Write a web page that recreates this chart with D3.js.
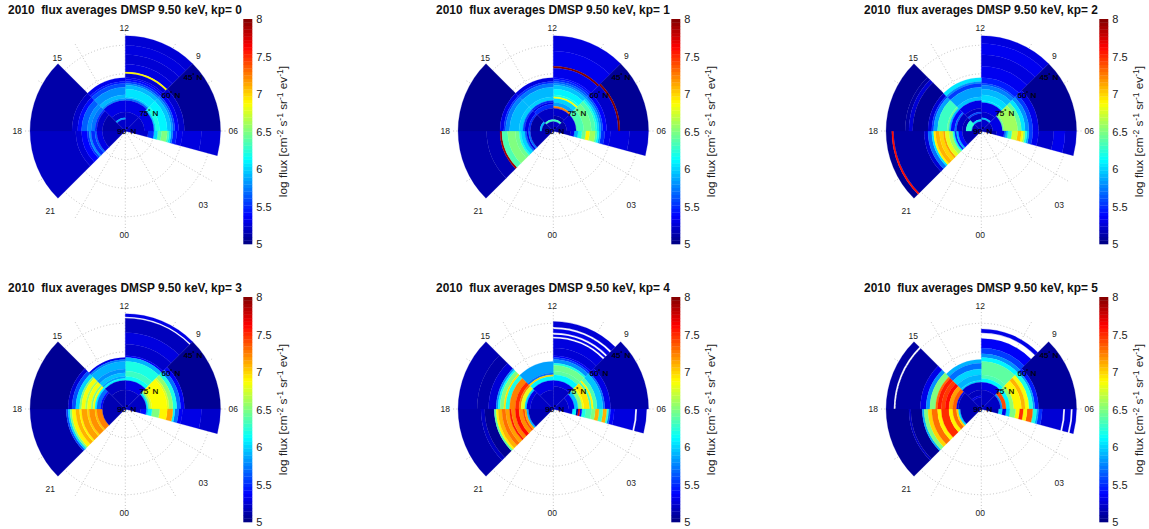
<!DOCTYPE html>
<html>
<head>
<meta charset="utf-8">
<script src="https://cdn.jsdelivr.net/npm/d3@7"></script>
<style>
    body { margin: 0; background: #fff; }
    text { font-family: "Liberation Sans", Arial, sans-serif; white-space: pre; }
</style>
</head>
<body>
<div id="chart"></div>
<script>
// MLT sectors, clockwise from noon
const sectorHours = [[12, 9], [9, 6], [6, 5], [21, 18], [18, 15], [15, 12]];
const kpValues = [0, 1, 2, 3, 4, 5];
const colorTicks = [5, 5.5, 6, 6.5, 7, 7.5, 8];
const latCircles = [75, 60, 45];
const latLabels = [45, 60, 75, 90];
const hourLabels = ["12", "9", "06", "03", "00", "21", "18", "15"];

// each band: [outer latitude, log flux], runs inward to the next band. null = no data
const kp0 = [
    [[40,5.25],[45,5.28],[50,5.25],[55,5.28],[59,6.9],[60,5.25],[62,5.32],[63,5.4],[64,5.55],[65,5.75],[66,5.92],[68,6.05],[72,6.0],[73,5.7],[74,5.3],[80,5.22]],
    [[40,5.07],[59,5.22],[62,5.35],[64,5.6],[65,5.8],[66,5.95],[68,6.1],[72,6.2],[74,6.0],[75,5.3],[80,5.2]],
    [[40,5.25],[50,5.28],[60,5.32],[63,5.45],[65,5.75],[66,6.05],[67,6.3],[68,6.5],[71,6.35],[73,6.0],[75,5.5],[78,5.22]],
    [[40,5.2],[64,5.25],[67,5.38],[70,5.55],[71,5.8],[72,5.5],[74,5.65],[75,5.3],[78,5.18]],
    [[40,5.12],[62,5.22],[65,5.4],[67,5.65],[70,5.8],[72,5.72],[74,5.5],[75,5.22],[78,5.12]],
    [[62,5.32],[64,5.45],[65,5.6],[67,5.8],[71,5.92],[73,5.8],[74,5.3],[80,5.22],[83,5.85],[84,5.22]]
];
const kp1 = [
    [[40,5.28],[48,5.32],[56,8.0],[57,5.32],[62,5.4],[63,5.5],[64,5.65],[65,5.8],[66,5.95],[68,6.1],[71,6.2],[72,6.85],[73,6.0],[75,5.85],[77,7.25],[78,5.22],[82,5.12],[84,6.3],[85,5.2]],
    [[40,5.06],[55,8.0],[56,5.22],[62,5.38],[64,5.6],[65,5.8],[66,6.0],[67,6.2],[68,6.35],[70,6.45],[74,6.35],[78,5.25],[83,5.12]],
    [[40,5.22],[50,5.28],[60,5.32],[63,5.5],[65,5.85],[66,6.1],[67,6.35],[68,6.6],[71,6.9],[73,6.45],[75,6.2],[77,5.9],[79,5.3],[81,5.15]],
    [[40,5.12],[55,5.15],[62,7.9],[63,6.35],[66,6.5],[70,6.45],[72,6.2],[73,6.0],[75,5.7],[76,5.3],[77,5.7],[78,5.15]],
    [[40,5.05],[62,5.3],[64,5.55],[65,5.75],[67,5.92],[72,5.98],[74,5.6],[75,5.3],[77,5.5],[78,5.1],[83,5.9],[84,5.1]],
    [[62,5.28],[64,5.5],[65,5.72],[67,5.92],[72,5.98],[74,5.5],[75,5.3],[76,5.5],[78,5.2],[84,6.3],[85,5.15]]
];
const kp2 = [
    [[40,5.28],[44,5.33],[50,5.28],[56,5.33],[62,5.45],[65,5.6],[66,5.75],[68,5.92],[71,6.02],[74,6.05],[75,5.3],[80,5.22],[83,5.95],[84,5.22]],
    [[40,5.06],[60,5.3],[63,5.55],[65,5.8],[67,6.05],[69,6.4],[71,6.6],[78,6.45],[79,5.3],[84,5.15]],
    [[40,5.22],[46,5.32],[52,5.22],[60,5.32],[63,5.55],[65,5.9],[66,6.2],[67,6.6],[68,6.85],[69,7.05],[71,6.75],[74,6.3],[76,5.95],[77,5.7],[78,5.3],[82,5.15]],
    [[40,5.05],[43,7.6],[44,5.1],[60,5.25],[62,5.7],[64,6.05],[65,6.9],[66,7.1],[68,7.0],[70,7.15],[71,6.8],[73,6.6],[75,6.2],[76,5.5],[77,5.9],[78,5.4],[80,5.15]],
    [[40,5.06],[50,5.1],[52,5.25],[54,5.06],[62,5.25],[64,5.55],[65,5.85],[67,6.3],[72,6.42],[73,5.95],[74,5.4],[76,5.7],[77,5.2],[80,5.15],[82,6.25],[85,5.15]],
    [[62,6.05],[64,5.8],[65,5.55],[67,5.85],[72,5.95],[74,5.3],[78,5.2],[80,5.6],[81,5.2],[84,6.0],[85,5.2]]
];
const kp3 = [
    [[40,5.3],[41.5,null],[42.3,5.18],[50,5.28],[56,5.22],[62,5.35],[63,5.9],[65,6.2],[70,6.3],[73,6.15],[75,5.3],[80,5.2]],
    [[40,5.06],[59,5.35],[61,5.7],[63,6.2],[65,6.55],[67,6.75],[68,6.87],[76,6.78],[77,6.5],[78,6.05],[79,5.2]],
    [[40,5.22],[50,5.3],[60,5.35],[62,5.7],[64,6.1],[65,7.15],[68,6.9],[72,6.5],[76,6.1],[78,5.95],[79,5.4],[82,5.2]],
    [[40,5.12],[59,5.6],[60,6.0],[61,6.5],[62,6.9],[64,7.1],[66,6.9],[67,7.15],[70,7.0],[71,7.2],[74,7.05],[75,7.25],[78,5.15]],
    [[40,5.06],[60,5.25],[62,5.6],[64,6.0],[66,6.5],[67,6.85],[69,6.6],[70,6.85],[72,6.5],[73,6.85],[74,6.1],[75,5.7],[77,5.4],[78,5.15]],
    [[63,5.3],[64,5.75],[65,5.9],[69,5.8],[71,5.95],[73,5.85],[74,6.1],[75,5.2],[80,5.15]]
];
const kp4 = [
    [[44,5.25],[47,null],[48,5.3],[50,null],[51,5.3],[52,null],[53,5.28],[58,5.25],[62,5.35],[63,5.55],[64,5.8],[66,6.2],[67,6.45],[70,6.4],[72,6.1],[75,5.3],[78,5.2]],
    [[40,5.12],[60,5.3],[63,5.7],[64,5.95],[67,6.35],[69,6.9],[70,6.3],[71,6.95],[74,6.85],[75,6.5],[77,5.95],[79,5.3],[82,5.2]],
    [[41,5.22],[46,null],[47,5.28],[58,5.35],[60,5.7],[61,6.25],[62,7.1],[64,6.3],[66,7.1],[68,6.5],[70,6.35],[73,6.2],[75,5.4],[76,7.7],[77,5.1],[78,6.1],[80,5.25]],
    [[40,5.12],[52,5.2],[54,5.06],[59,6.4],[60,6.9],[61,7.1],[63,7.3],[65,7.15],[67,7.55],[68,7.25],[70,7.6],[72,7.2],[74,7.4],[75,7.15],[76,5.9],[77,5.15]],
    [[40,5.15],[50,5.12],[56,5.25],[60,5.8],[61,6.15],[62,6.5],[64,6.95],[65,6.2],[67,7.25],[70,7.5],[72,7.25],[73,6.8],[75,6.0],[76,5.3],[78,5.2]],
    [[65,5.85],[71,5.7],[72,7.0],[73,6.1],[75,5.3],[80,5.2]]
];
const kp5 = [
    [[48,5.3],[50,null],[53,5.35],[58,5.55],[61,5.8],[63,6.1],[65,6.4],[72,6.35],[74,6.1],[76,5.3],[80,5.2]],
    [[40,5.08],[60,5.45],[62,5.85],[63,6.2],[65,6.85],[67,7.1],[69,6.9],[73,6.55],[75,6.1],[77,7.4],[79,5.8],[80,5.2]],
    [[40,5.25],[42,null],[43,5.25],[46,null],[47,5.25],[58,5.5],[60,5.85],[61,6.2],[63,7.35],[66,6.9],[68,7.5],[70,6.9],[72,6.5],[75,6.0],[77,5.3],[79,6.0],[81,5.15]],
    [[40,5.06],[52,5.2],[53,5.06],[59,5.9],[60,6.5],[62,7.0],[64,7.3],[67,6.9],[69,7.5],[73,6.9],[75,7.3],[77,7.0],[78,6.0],[79,5.15]],
    [[40,5.1],[44,null],[45,5.1],[58,5.3],[61,5.8],[63,6.5],[66,7.3],[67,7.55],[69,7.45],[71,7.6],[73,7.15],[75,7.35],[77,5.3],[78,5.15]],
    [[64,5.9],[66,5.7],[69,6.0],[72,5.9],[75,6.0],[76,5.22],[80,5.18],[83,5.3],[84,5.18]]
];
const allKp = [kp0, kp1, kp2, kp3, kp4, kp5];

const width = 1149, height = 529;
const centers = [[125.3, 131], [553.3, 131], [981.3, 131], [125.3, 409], [553.3, 409], [981.3, 409]];

const svg = d3.select("#chart").append("svg")
    .attr("width", width)
    .attr("height", height);

// lat 90 in the middle, 1 degree = 1.905 px
const rScale = d3.scaleLinear().domain([90, 45]).range([0, 85.7]);
const angle = d3.scaleLinear().domain([0, 24]).range([0, 2 * Math.PI]);
const cbar = d3.scaleLinear().domain([5, 8]).range([225, 0]);

// matlab jet
const jet = d3.scaleLinear()
    .domain([5, 5.375, 6.125, 6.875, 7.625, 8])
    .range(["#000080", "#0000ff", "#00ffff", "#ffff00", "#ff0000", "#800000"])
    .clamp(true);

const arc = d3.arc();

function drawPanel(i) {
    let g = svg.append("g")
        .attr("transform", "translate(" + centers[i][0] + "," + centers[i][1] + ")");

    // dotted grid sits under the data
    latCircles.forEach(function(lat) {
        g.append("circle")
            .attr("r", rScale(lat))
            .attr("fill", "none")
            .attr("stroke", "#aaa")
            .attr("stroke-width", 0.7)
            .attr("stroke-dasharray", "1,2.2");
    });
    d3.range(0, 360, 30).forEach(function(deg) {
        let a = deg * Math.PI / 180;
        g.append("line")
            .attr("x2", 102 * Math.sin(a))
            .attr("y2", -102 * Math.cos(a))
            .attr("stroke", "#aaa")
            .attr("stroke-width", 0.7)
            .attr("stroke-dasharray", "1,2.2");
    });

    // flux rings
    allKp[i].forEach(function(bands, s) {
        let h0 = sectorHours[s][0], h1 = sectorHours[s][1];
        let start = angle((12 - h0 + 24) % 24);
        let end = start + angle(h0 - h1);
        bands.forEach(function(b, j) {
            if (b[1] === null) return;
            let inner = j < bands.length - 1 ? bands[j + 1][0] : 90;
            let c = jet(b[1]);
            g.append("path")
                .attr("d", arc({
                    innerRadius: rScale(inner),
                    outerRadius: rScale(b[0]),
                    startAngle: start,
                    endAngle: end
                }))
                .attr("fill", c)
                .attr("stroke", c)
                .attr("stroke-width", 0.25);
        });
    });

    // MLT labels
    const hourPos = [[-1, -103], [73, -75], [108, 0], [78, 74], [-1, 104], [-75, 80], [-108, 0], [-68, -73]];
    hourLabels.forEach(function(t, k) {
        g.append("text")
            .attr("x", hourPos[k][0])
            .attr("y", hourPos[k][1] + 3)
            .attr("text-anchor", "middle")
            .attr("font-size", 8.5)
            .attr("fill", "#222")
            .text(t);
    });

    // latitude labels
    latLabels.forEach(function(lat) {
        let off = (90 - lat) * 1.47;
        let t = g.append("text")
            .attr("x", off + 1.5)
            .attr("y", -off * 0.82 + 3)
            .attr("text-anchor", "middle")
            .attr("font-size", 8)
            .attr("fill", "#000")
            .attr("stroke", "#000")
            .attr("stroke-width", 0.2);
        t.append("tspan").text(lat);
        t.append("tspan").attr("font-size", 5).attr("dy", -3).text("°");
        t.append("tspan").attr("dy", 3).text(" N");
    });

    // title
    svg.append("text")
        .attr("x", centers[i][0] - 117.2)
        .attr("y", centers[i][1] - 116.7)
        .attr("font-size", 11.9)
        .attr("font-weight", "bold")
        .attr("fill", "#111")
        .text("2010  flux averages DMSP 9.50 keV, kp= " + kpValues[i]);

    // colorbar
    let cb = svg.append("g")
        .attr("transform", "translate(" + (centers[i][0] + 118) + "," + (centers[i][1] - 112) + ")");
    cb.selectAll("rect")
        .data(d3.range(64))
        .enter()
        .append("rect")
        .attr("x", 0)
        .attr("y", d => cbar(5 + (d + 1) * 3 / 64))
        .attr("width", 9)
        .attr("height", 225 / 64 + 0.3)
        .attr("fill", d => jet(5 + (d + 0.5) * 3 / 64));

    let ax = cb.append("g")
        .attr("transform", "translate(9,0)")
        .call(d3.axisRight(cbar).tickValues(colorTicks).tickSize(0).tickPadding(4).tickFormat(d3.format("")));
    ax.select(".domain").remove();
    ax.selectAll("text").attr("font-size", 11).attr("fill", "#222");

    let label = cb.append("text")
        .attr("transform", "translate(43.4,112.5) rotate(-90)")
        .attr("text-anchor", "middle")
        .attr("font-size", 11.8)
        .attr("fill", "#222");
    label.append("tspan").text("log flux [cm");
    [["-2", " s"], ["-1", " sr"], ["-1", " ev"], ["-1", "]"]].forEach(function(p) {
        label.append("tspan").attr("font-size", 8.5).attr("dy", -4).text(p[0]);
        label.append("tspan").attr("dy", 4).text(p[1]);
    });
}

d3.range(6).forEach(drawPanel);
</script>
</body>
</html>
